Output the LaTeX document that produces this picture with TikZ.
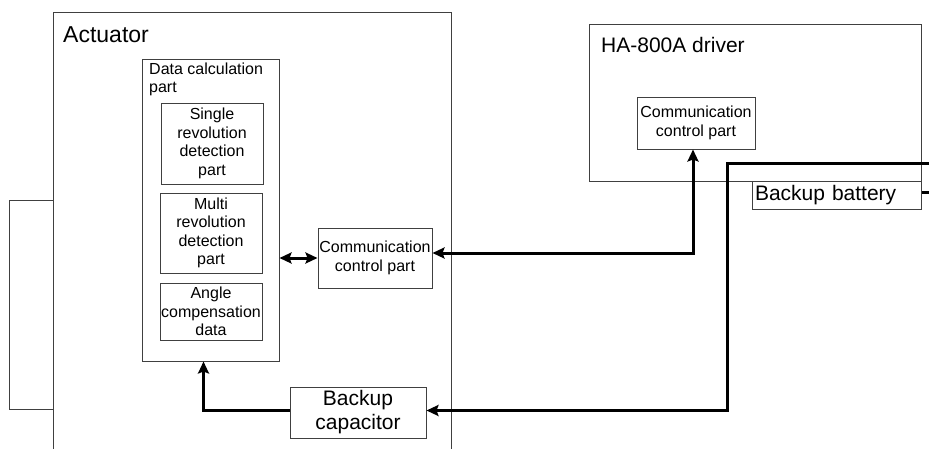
\documentclass[tikz,border=0pt]{standalone}
\usepackage{fontspec}
\setmainfont{Liberation Sans}
\usetikzlibrary{arrows.meta}

\begin{document}
\begin{tikzpicture}[x=1pt, y=-1pt,
    box/.style={draw=black!75, line width=1pt, inner sep=1pt, align=center, font=\fontsize{16}{18.5}\selectfont},
    bigbox/.style={box, font=\fontsize{21}{24}\selectfont},
    title/.style={inner sep=0pt, anchor=base west},
    wire/.style={line width=3pt},
    >={Stealth[length=12pt, width=11pt, inset=2pt]}]
  \useasboundingbox (0,0) rectangle (929,448);

  % 1. Actuator side
  \node[box, minimum width=44pt, minimum height=209pt] (shaft) at (31,304.5) {};
  \node[box, minimum width=398pt, minimum height=460pt] (actuator) at (252,242) {};
  \node[title, font=\fontsize{23}{26}\selectfont] (actlabel) at (63,42) {Actuator};

  \node[box, minimum width=137pt, minimum height=302pt] (data) at (210.5,210) {};
  \node[inner sep=0pt, anchor=north west, align=left, font=\fontsize{16}{18.5}\selectfont] (datalabel) at (149,62.5) {Data calculation\\part};
  \node[box, minimum width=102pt, minimum height=81pt] (single) at (212,143.5) {Single\\revolution\\detection\\part};
  \node[box, minimum width=102pt, minimum height=80pt] (multi) at (211,233) {Multi\\revolution\\detection\\part};
  \node[box, minimum width=102pt, minimum height=57pt] (angle) at (211,311.5) {Angle\\compensation\\data};

  \node[box, minimum width=114pt, minimum height=60pt] (comm) at (375,258) {Communication\\control part};
  \node[bigbox, minimum width=136pt, minimum height=51pt] (cap) at (358,412.5) {Backup\\capacitor};

  % 2. Driver side
  \node[box, minimum width=332pt, minimum height=157pt] (driver) at (755,102.5) {};
  \node[title, font=\fontsize{21}{24}\selectfont] (drvlabel) at (601,52) {HA-800A driver};
  \node[box, minimum width=118pt, minimum height=52pt] (drvcomm) at (696,123) {Communication\\control part};
  \node[bigbox, inner sep=3pt, text width=163pt, align=left, minimum height=28pt] (bat) at (836.5,195) {Backup battery};

  % 3. Connections
  \coordinate (pwrin) at (929,163);
  \coordinate (drop) at (727,163);
  \coordinate (batout) at (929,192);

  \draw[wire, <->] (data.east |- comm.west) -- (comm.west);
  \draw[wire, <->] ([yshift=5pt]comm.east) -| ([xshift=-3pt]drvcomm.south);
  \draw[wire, ->] ([yshift=2pt]cap.west) -| ([xshift=-7pt]data.south);
  \draw[wire, ->] (pwrin) -- (drop) |- ([yshift=2pt]cap.east);
  \draw[wire] ([yshift=3pt]bat.east) -- (batout);
\end{tikzpicture}
\end{document}
